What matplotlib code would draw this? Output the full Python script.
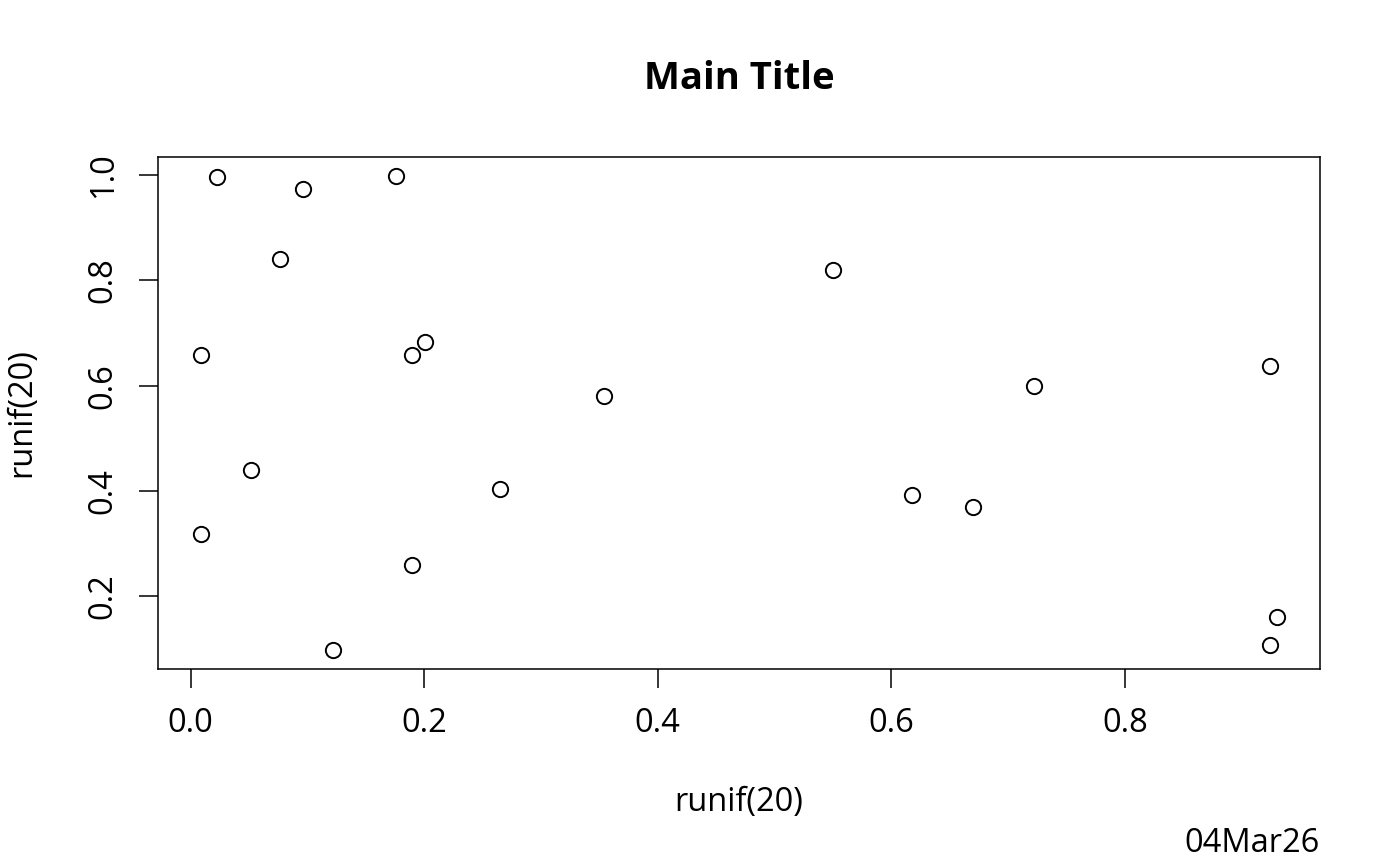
import matplotlib.pyplot as plt

plt.rcParams['font.family'] = ['Open Sans', 'DejaVu Sans']

# runif(20) の値
x_vals = [0.023, 0.096, 0.176, 0.077, 0.550, 0.009, 0.190, 0.201, 0.924, 0.354,
          0.722, 0.052, 0.265, 0.618, 0.670, 0.009, 0.190, 0.930, 0.924, 0.122]
y_vals = [0.996, 0.973, 0.998, 0.841, 0.820, 0.659, 0.659, 0.683, 0.638, 0.581,
          0.600, 0.439, 0.403, 0.393, 0.369, 0.319, 0.259, 0.160, 0.107, 0.098]
x_ticks = [0.0, 0.2, 0.4, 0.6, 0.8]
y_ticks = [0.2, 0.4, 0.6, 0.8, 1.0]

fig = plt.figure(figsize=(14, 8.66), dpi=100)
ax = fig.add_axes([158 / 1400, 1 - 669 / 866, (1320 - 158) / 1400, (669 - 157) / 866])

ax.plot(x_vals, y_vals, linestyle='none', marker='o', markersize=11,
        markerfacecolor='none', markeredgecolor='black', markeredgewidth=1.4)

# R の既定: 範囲を 4% 広げる
xr = max(x_vals) - min(x_vals)
yr = max(y_vals) - min(y_vals)
ax.set_xlim(min(x_vals) - 0.04 * xr, max(x_vals) + 0.04 * xr)
ax.set_ylim(min(y_vals) - 0.04 * yr, max(y_vals) + 0.04 * yr)

ax.set_xticks(x_ticks)
ax.set_xticklabels([f"{t:.1f}" for t in x_ticks])
ax.set_yticks(y_ticks)
ax.set_yticklabels([f"{t:.1f}" for t in y_ticks], rotation=90, va='center')
ax.tick_params(length=13.5, width=1.1, labelsize=23.5, pad=14)
for s in ax.spines.values():
    s.set_linewidth(1.1)

fig.text(739 / 1400, 1 - 79 / 866, 'Main Title', ha='center', va='center',
         fontsize=27.5, fontweight='bold')
fig.text(739 / 1400, 1 - 803 / 866, 'runif(20)', ha='center', va='center', fontsize=23.5)
fig.text(22 / 1400, 1 - 413 / 866, 'runif(20)', ha='center', va='center',
         fontsize=23.5, rotation=90)
fig.text(1320 / 1400, 1 - 843 / 866, '04Mar26', ha='right', va='center', fontsize=23.5)

fig.savefig('out.png', dpi=100)
